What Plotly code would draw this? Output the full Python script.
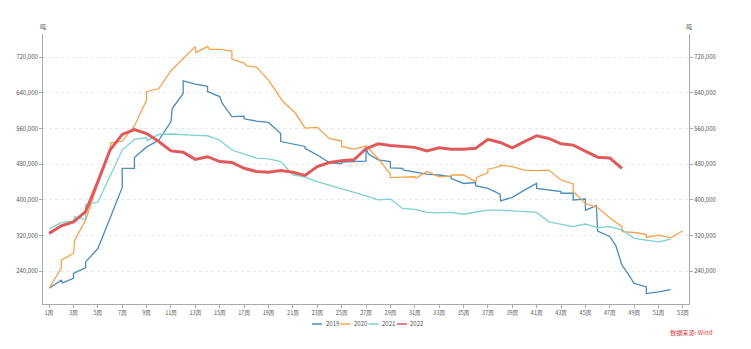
import plotly.graph_objects as go

# ---------------- data ----------------
weeks_2019 = [1, 2, 2.1, 3, 3, 4, 4, 5, 6, 7, 7, 8, 8, 9, 10, 11, 11.1, 12, 12, 13, 14, 14, 15, 15.2,
              16, 17, 17, 18, 19, 20, 20, 21, 22, 22, 23, 24, 25, 25, 26, 27, 27, 27.2, 28, 29, 29, 30,
              30.1, 31, 32, 33, 34, 34, 35, 36, 36, 37, 38, 38.05, 39, 40, 41, 41, 42, 43, 43, 44, 44,
              45, 45, 45.9, 46, 47, 47.5, 48, 48.4, 49, 50, 50, 51, 52]
vals_2019 = [202000, 220000, 214000, 224000, 235000, 248000, 261000, 291000, 359000, 428000, 471000,
             471000, 495000, 519000, 534000, 576000, 605000, 639000, 667000, 660000, 655000, 643000,
             632000, 617000, 587000, 588000, 582000, 577000, 574000, 549000, 531000, 525000, 520000,
             516000, 501000, 484000, 481000, 485000, 486000, 487000, 516000, 503000, 490000, 486000,
             472000, 471000, 467000, 463000, 458000, 456000, 452000, 448000, 437000, 439000, 432000,
             426000, 413000, 398000, 406000, 422000, 437000, 426000, 422000, 419000, 415000, 415000,
             400000, 402000, 377000, 387000, 330000, 318000, 297000, 254000, 238000, 213000, 205000,
             190000, 194000, 199000]

weeks_2020 = [1, 2, 2, 3, 3.1, 4, 5, 6, 6.05, 7, 8, 9, 9, 10, 11, 12, 13, 13.05, 14, 14.2, 15, 16, 16,
              17, 17.2, 18, 19, 20, 20.2, 21, 21.2, 22, 23, 24, 25, 25, 26, 27, 28, 29, 29, 30, 31,
              31.1, 32, 33, 34, 34, 35, 36, 36.1, 37, 37, 38, 38, 39, 40, 41, 42, 43, 44, 44, 45, 46,
              47, 48, 48, 49, 50, 50, 51, 52, 53]
vals_2020 = [202000, 247000, 265000, 280000, 310000, 355000, 437000, 515000, 528000, 532000, 566000,
             624000, 643000, 650000, 690000, 716000, 744000, 731000, 744000, 738000, 738000, 734000,
             716000, 707000, 701000, 698000, 669000, 628000, 621000, 600000, 595000, 561000, 563000,
             538000, 532000, 520000, 514000, 521000, 493000, 458000, 450000, 451000, 452000, 449000,
             464000, 452000, 454000, 456000, 456000, 441000, 451000, 461000, 469000, 475000, 478000,
             475000, 467000, 466000, 467000, 445000, 436000, 419000, 392000, 383000, 360000, 340000,
             329000, 327000, 323000, 316000, 321000, 315000, 331000]

weeks_2021 = [1, 2, 3, 3.1, 4, 4, 5, 6, 7, 8, 9, 9.05, 10, 11, 12, 13, 14, 15, 16, 17, 18, 19, 20, 21,
              22, 23, 24, 25, 26, 27, 28, 29, 30, 31, 32, 33, 34, 35, 36, 37, 38, 39, 40, 41, 42, 43,
              44, 45, 46, 47, 48, 49, 50, 51, 52]
vals_2021 = [335000, 349000, 353000, 362000, 356000, 390000, 395000, 452000, 512000, 536000, 540000,
             533000, 547000, 548000, 546000, 545000, 544000, 534000, 512000, 503000, 494000, 492000,
             486000, 456000, 451000, 441000, 433000, 426000, 417000, 409000, 400000, 402000, 381000,
             379000, 372000, 371000, 372000, 368000, 373000, 377000, 377000, 375000, 374000, 372000,
             351000, 345000, 340000, 346000, 338000, 340000, 333000, 314000, 310000, 306000, 312000]

weeks_2022 = list(range(1, 49))
vals_2022 = [325000, 342000, 351000, 374000, 441000, 512000, 547000, 558000, 549000, 531000, 510000,
             507000, 491000, 497000, 486000, 484000, 471000, 464000, 462000, 466000, 462000, 455000,
             475000, 484000, 488000, 490000, 515000, 526000, 522000, 520000, 518000, 510000, 517000,
             514000, 514000, 516000, 536000, 529000, 517000, 531000, 544000, 538000, 526000, 523000,
             510000, 496000, 494000, 471000]

series_names = ["2019", "2020", "2021", "2022"]
series_colors = ["#4a8dba", "#f5a24c", "#7fd0d0", "#e05a5c"]
series_widths = [1.3, 1.3, 1.3, 3]

tick_weeks = list(range(1, 54, 2))
tick_labels = [f"{w}周" for w in tick_weeks]
y_ticks = [240000, 320000, 400000, 480000, 560000, 640000, 720000]
y_tick_labels = [f"{v:,}" for v in y_ticks]

unit_label = "吨"
source_label = "数据来源: Wind"

# ---------------- figure ----------------
FONT = "Noto Sans CJK SC, Noto Sans, sans-serif"
TXT = "#555555"
fig = go.Figure()
all_x = [weeks_2019, weeks_2020, weeks_2021, weeks_2022]
all_y = [vals_2019, vals_2020, vals_2021, vals_2022]
for name, xs, ys, c, w in zip(series_names, all_x, all_y, series_colors, series_widths):
    fig.add_trace(go.Scatter(x=xs, y=ys, name=name, mode="lines",
                             line=dict(color=c, width=w), showlegend=False))
# invisible trace so the right axis is drawn
fig.add_trace(go.Scatter(x=weeks_2022, y=vals_2022, yaxis="y2", mode="lines",
                         line=dict(color="rgba(0,0,0,0)"), showlegend=False, hoverinfo="skip"))

yr = [166600, 772300]
axis_common = dict(range=yr, tickvals=y_ticks, ticktext=y_tick_labels,
                   showline=True, linecolor="#aaaaaa", linewidth=1,
                   ticks="outside", ticklen=3, tickcolor="#aaaaaa",
                   tickfont=dict(size=6, color=TXT, family=FONT), zeroline=False)

fig.update_layout(
    width=751, height=349,
    margin=dict(l=43, r=62, t=34, b=45, autoexpand=False),
    paper_bgcolor="white", plot_bgcolor="white",
    font=dict(family=FONT, size=6, color=TXT),
    xaxis=dict(range=[0.5, 53.5], tickvals=tick_weeks, ticktext=tick_labels,
               showline=True, linecolor="#aaaaaa", linewidth=1, showgrid=False,
               ticks="outside", ticklen=3, tickcolor="#aaaaaa", zeroline=False,
               tickfont=dict(size=5.5, color=TXT, family=FONT), automargin=False),
    yaxis=dict(**axis_common, showgrid=True, gridcolor="#e8e8e8", griddash="dot", gridwidth=1,
               automargin=False),
    yaxis2=dict(**axis_common, overlaying="y", side="right", showgrid=False, automargin=False),
    showlegend=False,
)

# unit labels
for xp in (0, 1):
    fig.add_annotation(text=unit_label, xref="paper", yref="paper", x=xp, y=1, xanchor="center",
                       yanchor="bottom", yshift=1, showarrow=False,
                       font=dict(size=6, color=TXT, family=FONT))

# legend (compact, drawn below plot)
plot_l, plot_w, plot_b, plot_h = 43, 646, 304, 270
leg_y = (plot_b - 324) / plot_h
for i, (name, c) in enumerate(zip(series_names, series_colors)):
    x0 = 312 + i * 28.3
    fig.add_shape(type="line", xref="paper", yref="paper",
                  x0=(x0 - plot_l) / plot_w, x1=(x0 + 10 - plot_l) / plot_w,
                  y0=leg_y, y1=leg_y, line=dict(color=c, width=1.5))
    fig.add_annotation(text=name, xref="paper", yref="paper", x=(x0 + 11.5 - plot_l) / plot_w,
                       y=leg_y, xanchor="left", yanchor="middle", showarrow=False,
                       font=dict(size=6, color=TXT, family=FONT))

fig.add_annotation(text=source_label, xref="paper", yref="paper", x=(691 - plot_l) / plot_w,
                   y=(plot_b - 332) / plot_h, xanchor="center", yanchor="middle", showarrow=False,
                   font=dict(size=6.2, color="#e0403f", family=FONT))

fig.write_html("out.html")
